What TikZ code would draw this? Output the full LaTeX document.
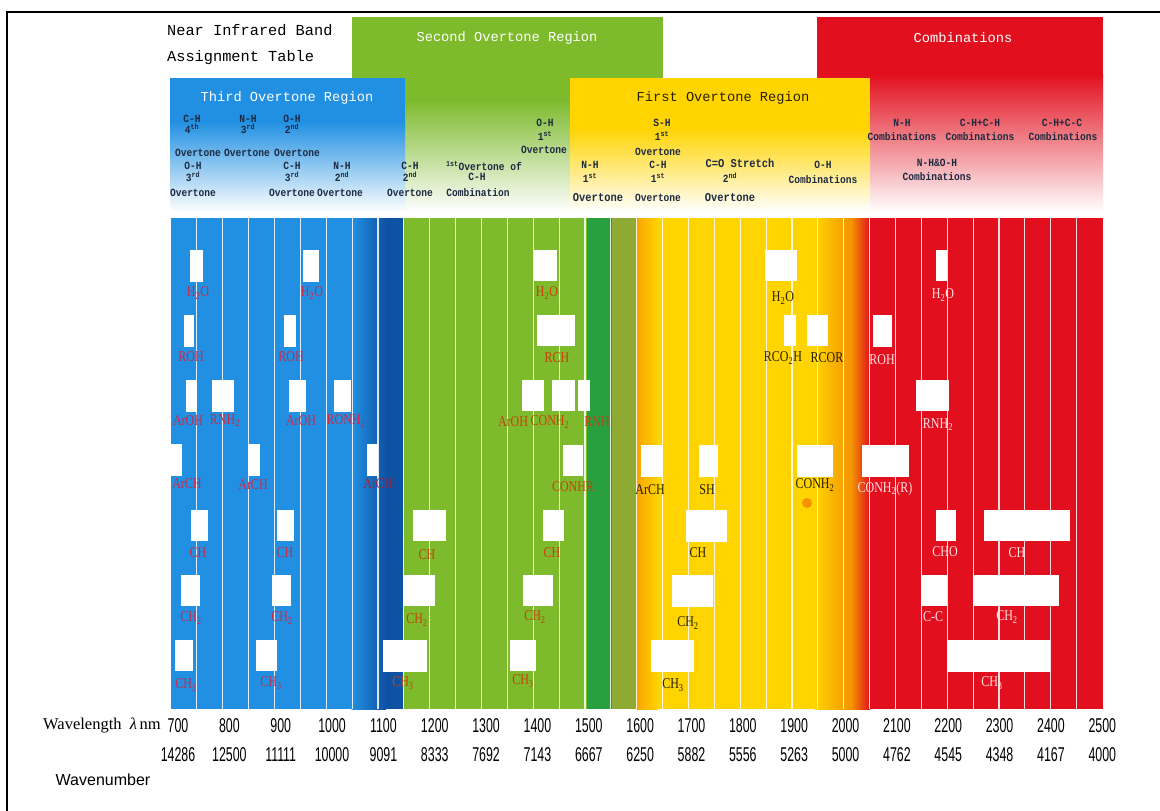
\documentclass[tikz,border=0pt]{standalone}
\usepackage{fontspec}
\setmainfont{Liberation Serif}
\newfontfamily\monofont{Liberation Mono}
\newfontfamily\hdfont{Liberation Mono}[FakeStretch=0.87]
\newfontfamily\lblfont{Liberation Serif}[FakeStretch=0.8]
\newfontfamily\numfont{Liberation Sans}[FakeStretch=0.62]
\newfontfamily\sansfont{Liberation Sans}

\definecolor{nirblue}{HTML}{2190E2}
\definecolor{nirdeep}{HTML}{0E52A4}
\definecolor{nirgreen}{HTML}{7DBA2C}
\definecolor{nirdkgreen}{HTML}{28A040}
\definecolor{nirolive}{HTML}{8EAA32}
\definecolor{niryellow}{HTML}{FFD400}
\definecolor{nirorange}{HTML}{F39200}
\definecolor{nirred}{HTML}{E2101E}
\definecolor{lblcrimson}{HTML}{C82A4C}
\definecolor{lblbrown}{HTML}{C8420C}
\definecolor{lbldark}{HTML}{2A2200}
\definecolor{lbllight}{HTML}{FFE0E0}
\definecolor{hdink}{HTML}{1E2A40}

\tikzset{
  title/.style={font=\monofont\fontsize{13.7}{16}\selectfont, inner sep=0pt},
  hd/.style={font=\hdfont\bfseries\fontsize{11}{12}\selectfont, inner sep=0pt, text=hdink},
  hdwide/.style={hd, font=\hdfont\bfseries\fontsize{12}{12}\selectfont},
  band/.style={fill=white},
  lbl/.style={font=\lblfont\fontsize{15}{16}\selectfont, inner sep=0pt},
  lb/.style={lbl, text=lblcrimson},
  lg/.style={lbl, text=lblbrown},
  ly/.style={lbl, text=lbldark},
  lr/.style={lbl, text=lbllight},
  gridline/.style={white, opacity=0.85, line width=1.2pt},
  num/.style={font=\numfont\fontsize{20}{21}\selectfont, inner sep=0pt},
}

\begin{document}
\begin{tikzpicture}[x=1pt, y=-1pt]
\useasboundingbox (0,0) rectangle (1160,811);
\fill[white] (0,0) rectangle (1160,811);

% outer frame
\draw[line width=2.2pt] (7,12) -- (1160,12);
\draw[line width=2.2pt] (7,11) -- (7,811);

% title
\node[font=\monofont\fontsize{15.3}{18}\selectfont, anchor=west, inner sep=0pt] (t1) at (167,30) {Near Infrared Band};
\node[font=\monofont\fontsize{15.3}{18}\selectfont, anchor=west, inner sep=0pt] (t2) at (167,58) {Assignment Table};

% ---------- region header panels ----------
% second overtone (green)
\fill[nirgreen] (352,17) rectangle (663,100);
\shade[top color=nirgreen, bottom color=white] (352,99.5) rectangle (663,212);
% combinations (red)
\fill[nirred] (817,17) rectangle (1103,75);
\shade[top color=nirred, bottom color=white] (817,74.5) rectangle (1103,212);
% third overtone (blue)
\fill[nirblue] (170,78) rectangle (405,122);
\shade[top color=nirblue, bottom color=white] (170,121.5) rectangle (405,212);
% first overtone (yellow)
\fill[niryellow] (570,78) rectangle (870,128);
\shade[top color=niryellow, bottom color=white] (570,127.5) rectangle (870,212);

\node[title, text=white] (h2) at (507,38) {Second Overtone Region};
\node[title, text=white] (hc) at (963,38) {Combinations};
\node[title, text=white] (h3) at (287,98) {Third Overtone Region};
\node[title, text=lbldark] (h1) at (723,98) {First Overtone Region};

% third overtone assignments
\node[hd] (a1) at (192,119) {C-H};
\node[hd] (a2) at (192,129) {4\textsuperscript{th}};
\node[hd] (a3) at (248,119) {N-H};
\node[hd] (a4) at (248,129) {3\textsuperscript{rd}};
\node[hd] (a5) at (292,119) {O-H};
\node[hd] (a6) at (292,129) {2\textsuperscript{nd}};
\node[hd] (a7) at (198,153) {Overtone};
\node[hd] (a8) at (247,153) {Overtone};
\node[hd] (a9) at (297,153) {Overtone};
\node[hd] (a10) at (193,166) {O-H};
\node[hd] (a11) at (193,177) {3\textsuperscript{rd}};
\node[hd] (a12) at (193,193) {Overtone};
\node[hd] (a13) at (292,166) {C-H};
\node[hd] (a14) at (292,177) {3\textsuperscript{rd}};
\node[hd] (a15) at (292,193) {Overtone};
\node[hd] (a16) at (342,166) {N-H};
\node[hd] (a17) at (342,177) {2\textsuperscript{nd}};
\node[hd] (a18) at (340,193) {Overtone};
\node[hd] (a19) at (410,166) {C-H};
\node[hd] (a20) at (410,177) {2\textsuperscript{nd}};
\node[hd] (a21) at (410,193) {Overtone};
% second overtone assignments
\node[hd] (b1) at (484,166) {\textsuperscript{1st}Overtone of};
\node[hd] (b2) at (477,177) {C-H};
\node[hd] (b3) at (478,193) {Combination};
\node[hd] (b4) at (545,123) {O-H};
\node[hd] (b5) at (545,136) {1\textsuperscript{st}};
\node[hd] (b6) at (544,150) {Overtone};
% first overtone assignments
\node[hd] (c1) at (662,123) {S-H};
\node[hd] (c2) at (662,136) {1\textsuperscript{st}};
\node[hd] (c3) at (658,152) {Overtone};
\node[hd] (c4) at (590,165) {N-H};
\node[hd] (c5) at (590,178) {1\textsuperscript{st}};
\node[hdwide] (c6) at (598,198) {Overtone};
\node[hd] (c7) at (658,165) {C-H};
\node[hd] (c8) at (658,178) {1\textsuperscript{st}};
\node[hd] (c9) at (658,198) {Overtone};
\node[hdwide] (c10) at (740,163) {C=O Stretch};
\node[hd] (c11) at (730,178) {2\textsuperscript{nd}};
\node[hdwide] (c12) at (730,198) {Overtone};
\node[hd] (c13) at (823,165) {O-H};
\node[hd] (c14) at (823,180) {Combinations};
% combination assignments
\node[hd] (d1) at (902,123) {N-H};
\node[hd] (d2) at (902,137) {Combinations};
\node[hd] (d3) at (980,123) {C-H+C-H};
\node[hd] (d4) at (980,137) {Combinations};
\node[hd] (d5) at (1062,123) {C-H+C-C};
\node[hd] (d6) at (1063,137) {Combinations};
\node[hd] (d7) at (937,163) {N-H\&O-H};
\node[hd] (d8) at (937,177) {Combinations};

% ---------- spectral strip ----------
\fill[nirblue] (171,218) rectangle (352,709);
\shade[left color=nirblue, right color=nirdeep] (351.5,218) rectangle (386,709);
\fill[nirdeep] (385.5,218) rectangle (403,709);
\fill[nirgreen] (402.5,218) rectangle (587,709);
\fill[nirdkgreen] (586.5,218) rectangle (612,709);
\fill[nirolive] (611.5,218) rectangle (637,709);
\shade[left color=nirorange!70!niryellow, right color=niryellow] (636.5,218) rectangle (658,709);
\fill[niryellow] (657.5,218) rectangle (815,709);
\shade[left color=niryellow, right color=nirorange] (814.5,218) rectangle (852,709);
\shade[left color=nirorange, right color=nirred] (851.5,218) rectangle (870,709);
\fill[nirred] (869.5,218) rectangle (1102.5,709);

\foreach \k in {1,...,35}
  \draw[gridline] ({171+\k*25.875},218) -- ({171+\k*25.875},709);

% ---------- absorption bands ----------
% third overtone region
\fill[band] (190,250) rectangle (203,282);  \node[lb] (lb1) at (198,293) {H\textsubscript{2}O};
\fill[band] (303,250) rectangle (319,282);  \node[lb] (lb2) at (312,293) {H\textsubscript{2}O};
\fill[band] (184,315) rectangle (194,347);  \node[lb] (lb3) at (191,357) {ROH};
\fill[band] (284,315) rectangle (296,347);  \node[lb] (lb4) at (291,357) {ROH};
\fill[band] (186,380) rectangle (197,412);  \node[lb] (lb5) at (188,421) {ArOH};
\fill[band] (212,380) rectangle (234,412);  \node[lb] (lb6) at (225,421) {RNH\textsubscript{2}};
\fill[band] (289,380) rectangle (306,412);  \node[lb] (lb7) at (301,421) {ArOH};
\fill[band] (334,380) rectangle (351,412);  \node[lb] (lb8) at (346,421) {RONH\textsubscript{2}};
\fill[band] (170,444) rectangle (182,476);  \node[lb] (lb9) at (187,484) {ArCH};
\fill[band] (248,444) rectangle (260,476);  \node[lb] (lb10) at (253,485) {ArCH};
\fill[band] (367,444) rectangle (378,476);  \node[lb, text=lblcrimson!80!black] (lb11) at (378,484) {ArCH};
\fill[band] (191,510) rectangle (208,541);  \node[lb] (lb12) at (198,553) {CH};
\fill[band] (277,510) rectangle (294,541);  \node[lb] (lb13) at (285,553) {CH};
\fill[band] (181,575) rectangle (200,606);  \node[lb] (lb14) at (191,618) {CH\textsubscript{2}};
\fill[band] (272,575) rectangle (291,606);  \node[lb] (lb15) at (282,618) {CH\textsubscript{2}};
\fill[band] (175,640) rectangle (193,671);  \node[lb] (lb16) at (186,685) {CH\textsubscript{3}};
\fill[band] (256,640) rectangle (277,671);  \node[lb] (lb17) at (271,683) {CH\textsubscript{3}};
\fill[band] (383,640) rectangle (427,672);  \node[lg] (lb18) at (403,683) {CH\textsubscript{3}};
% second overtone region
\fill[band] (534,250) rectangle (557,281);  \node[lg] (lg1) at (547,293) {H\textsubscript{2}O};
\fill[band] (537,315) rectangle (575,346);  \node[lg] (lg2) at (557,358) {RCH};
\fill[band] (522,380) rectangle (544,411);  \node[lg] (lg3) at (513,422) {ArOH};
\fill[band] (552,380) rectangle (575,411);  \node[lg] (lg4) at (550,422) {CONH\textsubscript{2}};
\fill[band] (578,380) rectangle (590,411);  \node[lg] (lg5) at (597,422) {RNH};
\fill[band] (563,445) rectangle (583,476);  \node[lg] (lg6) at (573,487) {CONHR};
\fill[band] (413,510) rectangle (446,541);  \node[lg] (lg7) at (427,555) {CH};
\fill[band] (543,510) rectangle (564,541);  \node[lg] (lg8) at (552,553) {CH};
\fill[band] (403,575) rectangle (435,606);  \node[lg] (lg9) at (417,620) {CH\textsubscript{2}};
\fill[band] (523,575) rectangle (553,606);  \node[lg] (lg10) at (535,617) {CH\textsubscript{2}};
\fill[band] (510,640) rectangle (536,671);  \node[lg] (lg11) at (523,681) {CH\textsubscript{3}};
% first overtone region
\fill[band] (765,250) rectangle (797,281);  \node[ly] (ly1) at (783,298) {H\textsubscript{2}O};
\fill[band] (784,315) rectangle (796,346);  \node[ly] (ly2) at (783,358) {RCO\textsubscript{2}H};
\fill[band] (807,315) rectangle (828,346);  \node[ly] (ly3) at (827,358) {RCOR};
\fill[band] (641,445) rectangle (663,477);  \node[ly] (ly4) at (650,490) {ArCH};
\fill[band] (699,445) rectangle (718,477);  \node[ly] (ly5) at (707,490) {SH};
\fill[band] (797,445) rectangle (833,477);  \node[ly] (ly6) at (815,485) {CONH\textsubscript{2}};
\fill[nirorange!80!red, opacity=0.7] (807,503) circle (5);
\fill[band] (686,510) rectangle (727,542);  \node[ly] (ly7) at (698,553) {CH};
\fill[band] (672,575) rectangle (713,607);  \node[ly] (ly8) at (688,623) {CH\textsubscript{2}};
\fill[band] (651,640) rectangle (694,672);  \node[ly] (ly9) at (673,685) {CH\textsubscript{3}};
% combination region
\fill[band] (936,250) rectangle (947,281);  \node[lr] (lr1) at (943,295) {H\textsubscript{2}O};
\fill[band] (873,315) rectangle (892,347);  \node[lr] (lr2) at (882,360) {ROH};
\fill[band] (916,380) rectangle (949,411);  \node[lr] (lr3) at (938,425) {RNH\textsubscript{2}};
\fill[band] (862,445) rectangle (909,477);  \node[lr] (lr4) at (885,489) {CONH\textsubscript{2}(R)};
\fill[band] (936,510) rectangle (956,541);  \node[lr] (lr5) at (945,552) {CHO};
\fill[band] (984,510) rectangle (1070,541); \node[lr] (lr6) at (1017,553) {CH};
\fill[band] (921,575) rectangle (947,606);  \node[lr] (lr7) at (933,617) {C-C};
\fill[band] (973,575) rectangle (1059,606); \node[lr] (lr8) at (1007,617) {CH\textsubscript{2}};
\fill[band] (947,640) rectangle (1050,672); \node[lr] (lr9) at (992,683) {CH\textsubscript{3}};

% ---------- axes ----------
\node[font=\fontsize{16.5}{17}\selectfont, inner sep=0pt, anchor=east] (wl) at (161,725) {Wavelength\enspace\textit{λ}\,nm};
\node[font=\sansfont\fontsize{16}{17}\selectfont, inner sep=0pt] (wn) at (103,780) {Wavenumber};
\foreach \w [count=\i from 0] in {700,800,900,1000,1100,1200,1300,1400,1500,1600,1700,1800,1900,2000,2100,2200,2300,2400,2500}
  \node[num] (w\i) at ({178+\i*51.35},726) {\w};
\foreach \n [count=\i from 0] in {14286,12500,11111,10000,9091,8333,7692,7143,6667,6250,5882,5556,5263,5000,4762,4545,4348,4167,4000}
  \node[num] (n\i) at ({178+\i*51.35},755) {\n};
\end{tikzpicture}
\end{document}
